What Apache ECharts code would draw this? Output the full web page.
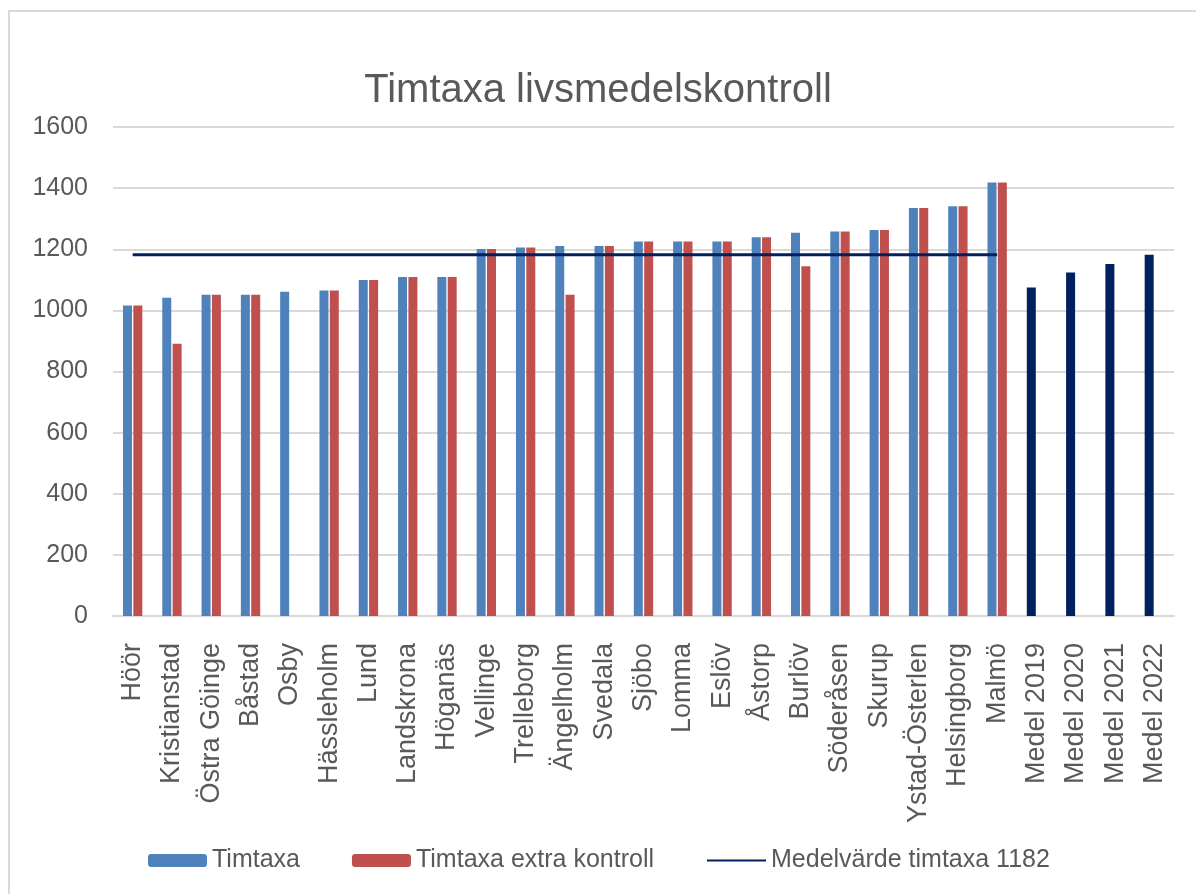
<!DOCTYPE html>
<html>
<head>
<meta charset="utf-8">
<title>Timtaxa livsmedelskontroll</title>
<script src="https://cdn.jsdelivr.net/npm/echarts@6/dist/echarts.min.js"></script>
<style>
    html, body { margin: 0; padding: 0; background: #fff; }
    #chart { width: 1196px; height: 894px; }
</style>
</head>
<body>
<div id="chart"></div>
<script>
// kommuner + medelvärden per år
var categories = ['Höör', 'Kristianstad', 'Östra Göinge', 'Båstad', 'Osby', 'Hässleholm', 'Lund',
    'Landskrona', 'Höganäs', 'Vellinge', 'Trelleborg', 'Ängelholm', 'Svedala', 'Sjöbo', 'Lomma',
    'Eslöv', 'Åstorp', 'Burlöv', 'Söderåsen', 'Skurup', 'Ystad-Österlen', 'Helsingborg', 'Malmö',
    'Medel 2019', 'Medel 2020', 'Medel 2021', 'Medel 2022'];

var timtaxa = [1016, 1041, 1051, 1051, 1061, 1065, 1099, 1109, 1109, 1201, 1206, 1211, 1211,
    1225, 1225, 1225, 1239, 1254, 1258, 1263, 1335, 1341, 1418,
    1075, 1124, 1152, 1182];

var extraKontroll = [1016, 891, 1051, 1051, '-', 1065, 1099, 1109, 1109, 1201, 1206, 1051, 1211,
    1225, 1225, 1225, 1239, 1144, 1258, 1263, 1335, 1341, 1418,
    '-', '-', '-', '-'];

var medelAr = ['Medel 2019', 'Medel 2020', 'Medel 2021', 'Medel 2022'];
var medelvarde = 1182;

var textColor = '#595959';
var fontFamily = '"Liberation Sans", Arial, sans-serif';

// medel-staplarna får mörkblå färg
var timtaxaData = timtaxa.map(function(v, i) {
    if (medelAr.indexOf(categories[i]) >= 0) {
        return { value: v, itemStyle: { color: '#002060' } };
    }
    return v;
});

// linjen går bara över kommunerna
var linjeData = categories.map(function(c) {
    return medelAr.indexOf(c) >= 0 ? '-' : medelvarde;
});

var chart = echarts.init(document.getElementById('chart'));
var option = {
    backgroundColor: '#fff',
    animation: false,
    textStyle: { fontFamily: fontFamily },
    graphic: [{
        type: 'rect',
        shape: { x: 9, y: 11, width: 1400, height: 1000 },
        style: { fill: 'none', stroke: '#d9d9d9', lineWidth: 2 },
        silent: true
    }],
    title: {
        text: 'Timtaxa livsmedelskontroll',
        left: 'center',
        top: 66,
        textStyle: {
            color: textColor,
            fontSize: 40,
            fontWeight: 'normal',
            fontFamily: fontFamily
        }
    },
    legend: {
        left: 143,
        top: 843,
        itemWidth: 59,
        itemHeight: 13,
        itemGap: 52,
        textStyle: { color: textColor, fontSize: 25, fontFamily: fontFamily },
        data: ['Timtaxa', 'Timtaxa extra kontroll', {
            name: 'Medelvärde timtaxa 1182',
            itemStyle: { opacity: 0 } // bara linjen, ingen punkt
        }]
    },
    grid: {
        left: 113,
        right: 22,
        top: 127,
        bottom: 278,
        containLabel: false
    },
    xAxis: {
        type: 'category',
        data: categories,
        axisTick: { show: false },
        axisLine: { lineStyle: { color: '#d9d9d9', width: 2 } },
        axisLabel: {
            rotate: 90,
            interval: 0,
            margin: 27,
            color: textColor,
            fontSize: 27,
            fontFamily: fontFamily
        }
    },
    yAxis: {
        type: 'value',
        min: 0,
        max: 1600,
        interval: 200,
        axisLine: { show: false },
        axisTick: { show: false },
        splitLine: { lineStyle: { color: '#d9d9d9', width: 2 } },
        axisLabel: {
            margin: 25,
            color: textColor,
            fontSize: 25,
            fontFamily: fontFamily,
            formatter: function(v) { return String(v); }
        }
    },
    series: [{
        name: 'Timtaxa',
        type: 'bar',
        barWidth: 9,
        barGap: '15%',
        itemStyle: { color: '#4f81bd' },
        data: timtaxaData
    }, {
        name: 'Timtaxa extra kontroll',
        type: 'bar',
        barWidth: 9,
        barGap: '15%',
        itemStyle: { color: '#c0504d' },
        data: extraKontroll
    }, {
        name: 'Medelvärde timtaxa 1182',
        type: 'line',
        symbol: 'none',
        z: 5,
        lineStyle: { color: '#002060', width: 3 },
        itemStyle: { color: '#002060' },
        data: linjeData
    }]
};
chart.setOption(option);
window.onresize = chart.resize;
</script>
</body>
</html>
